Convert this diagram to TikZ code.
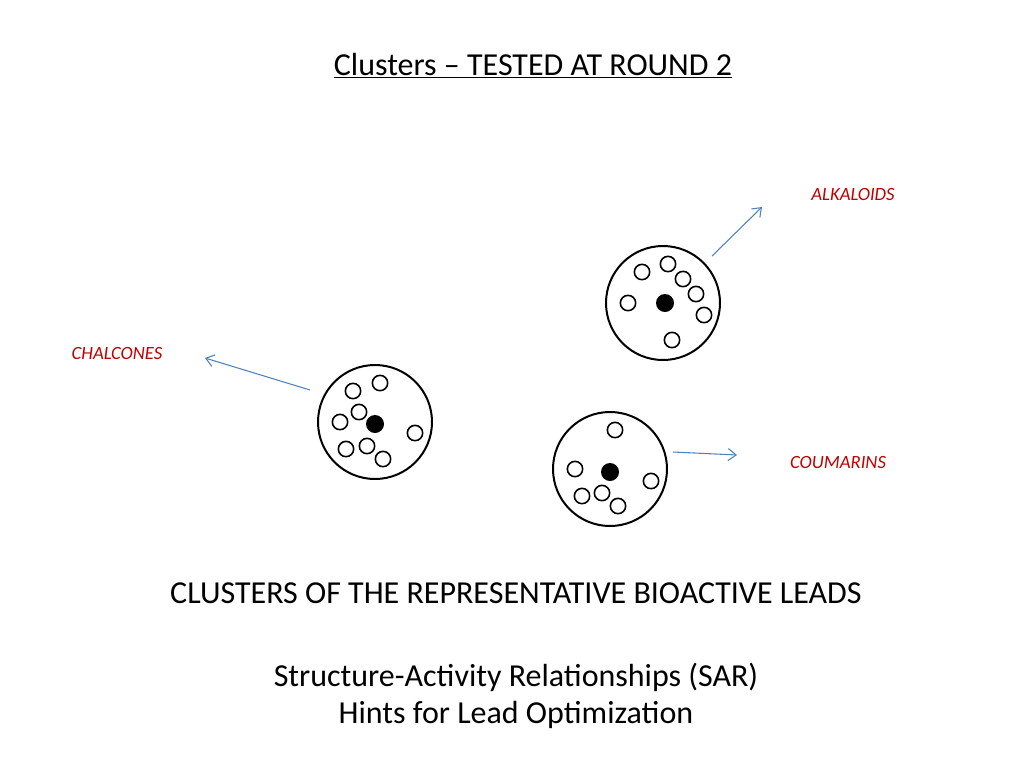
\documentclass[tikz,border=0pt]{standalone}
\usepackage{fontspec}
\setmainfont{Carlito}
\usetikzlibrary{arrows.meta}
\definecolor{labelred}{RGB}{192,0,0}
\definecolor{arrowblue}{RGB}{79,129,189}

\begin{document}
\begin{tikzpicture}[x=0.75pt,y=-0.75pt]
    \useasboundingbox (0,0) rectangle (1024,768);
    \tikzset{
        big/.style={circle,draw=black,line width=1.5pt,minimum size=85.5pt,inner sep=0pt},
        lead/.style={circle,fill=black,minimum size=13.5pt,inner sep=0pt},
        mol/.style={circle,draw=black,line width=1.2pt,fill=white,minimum size=11.5pt,inner sep=0pt},
        family/.style={text=labelred,font=\fontsize{14}{16}\selectfont\itshape},
        body/.style={font=\fontsize{24}{28}\selectfont,align=center},
        link/.style={draw=arrowblue,line width=0.8pt,-{Straight Barb[length=6pt,width=9pt]}}
    }
    \node[font=\fontsize{24}{28}\selectfont] (title) at (533,66) {\underline{Clusters – TESTED AT ROUND 2}};

    % chalcones cluster
    \begin{scope}
        \node[big] (c1) at (375,422) {};
        \node[lead] (c1lead) at (375,424) {};
        \foreach \x/\y [count=\i] in {380/383,353/391,359/412,340/422,415/433,346/449,367/446,383/459}
            \node[mol] (c1m\i) at (\x,\y) {};
    \end{scope}

    % alkaloids cluster
    \begin{scope}
        \node[big] (c2) at (663,303) {};
        \node[lead] (c2lead) at (665,303) {};
        \foreach \x/\y [count=\i] in {642/272,668/264,683/279,696/294,704/315,628/303,672/340}
            \node[mol] (c2m\i) at (\x,\y) {};
    \end{scope}

    % coumarins cluster
    \begin{scope}
        \node[big] (c3) at (610,469) {};
        \node[lead] (c3lead) at (610,472) {};
        \foreach \x/\y [count=\i] in {615/430,575/469,651/481,582/496,602/493,618/506}
            \node[mol] (c3m\i) at (\x,\y) {};
    \end{scope}

    \node[family] (alk) at (853,195) {ALKALOIDS};
    \node[family] (chal) at (117,353) {CHALCONES};
    \node[family] (coum) at (838,463) {COUMARINS};

    \coordinate (alkfrom) at (712,256);
    \coordinate (alkto) at (762,207);
    \coordinate (chalfrom) at (310,390);
    \coordinate (chalto) at (205,358);
    \coordinate (coumfrom) at (673,452);
    \coordinate (coumto) at (737,455);
    \path[link] (alkfrom) -- (alkto);
    \path[link] (chalfrom) -- (chalto);
    \path[link] (coumfrom) -- (coumto);

    \node[body] (leads) at (516,593) {CLUSTERS OF THE REPRESENTATIVE BIOACTIVE LEADS};
    \node[body] (sar) at (516,696) {Structure-Activity Relationships (SAR)\\Hints for Lead Optimization};
\end{tikzpicture}
\end{document}
